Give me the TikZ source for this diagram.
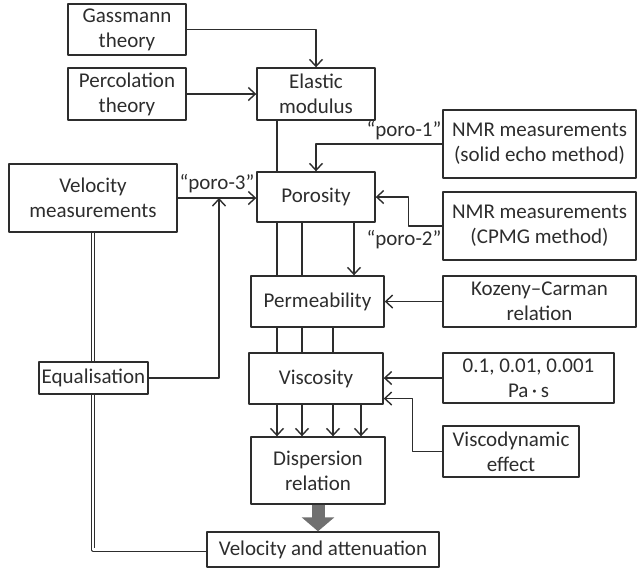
\documentclass[tikz,border=0pt]{standalone}
\usepackage{fontspec}
\setmainfont{Carlito}
\usetikzlibrary{arrows.meta}
\definecolor{ink}{RGB}{45,45,45}
\definecolor{bigarrow}{RGB}{112,112,112}
\tikzset{
  box/.style={draw=ink, line width=0.7pt, inner sep=0pt, align=center, text=ink},
  lbl/.style={inner sep=0pt, text=ink},
  arr/.style={draw=ink, line width=0.7pt, -{Straight Barb[length=3.5pt,width=6.5pt]}},
  ln/.style={draw=ink, line width=0.7pt},
  dbl/.style={draw=ink, line width=0.45pt, double=white, double distance=1.1pt},
  bigarr/.style={draw=bigarrow, line width=6.5pt, -{Triangle[length=7pt,width=16pt]}}
}
\begin{document}
\begin{tikzpicture}[x=0.5pt, y=-0.5pt, font=\fontsize{10.5pt}{12.5pt}\selectfont, line join=round]
		\useasboundingbox (0,0) rectangle (637,570);
		% boxes
		\node[box, minimum width=59pt, minimum height=25.5pt] (gass) at (127,29.5) {Gassmann\\theory};
		\node[box, minimum width=59pt, minimum height=26pt] (perc) at (127,94) {Percolation\\theory};
		\node[box, minimum width=59pt, minimum height=26pt] (elast) at (316,94) {Elastic\\modulus};
		\node[box, minimum width=96.5pt, minimum height=34pt] (nmr1) at (539.5,144) {NMR measurements\\(solid echo method)};
		\node[box, minimum width=59pt, minimum height=25pt] (poros) at (316,197) {Porosity};
		\node[box, minimum width=96.5pt, minimum height=34pt] (nmr2) at (539.5,226) {NMR measurements\\(CPMG method)};
		\node[box, minimum width=84pt, minimum height=34pt] (velm) at (93,198) {Velocity\\measurements};
		\node[box, minimum width=66.5pt, minimum height=25.5pt] (perm) at (317.5,301.5) {Permeability};
		\node[box, minimum width=96.5pt, minimum height=25.5pt] (koz) at (539.5,301.5) {Kozeny–Carman\\relation};
		\node[box, minimum width=67pt, minimum height=25.5pt] (visc) at (316,378.5) {Viscosity};
		\node[box, minimum width=85.5pt, minimum height=25pt] (pas) at (528.5,378) {0.1, 0.01, 0.001\\Pa\,·\,s};
		\node[box, minimum width=54.5pt, minimum height=16pt] (equal) at (93.5,378) {Equalisation};
		\node[box, minimum width=68pt, minimum height=25.5pt] (vdyn) at (511,451.5) {Viscodynamic\\effect};
		\node[box, minimum width=67pt, minimum height=33.5pt] (disp) at (318,470.5) {Dispersion\\relation};
		\node[box, minimum width=116pt, minimum height=17.5pt] (velatt) at (323,549.5) {Velocity and attenuation};
		% labels
		\node[lbl] (p1) at (404,131) {“poro-1”};
		\node[lbl] (p2) at (404,240) {“poro-2”};
		\node[lbl] (p3) at (217,184) {“poro-3”};
		% columns down the middle
		\coordinate (k1) at (277,0);
		\coordinate (k2) at (302,0);
		\coordinate (k3) at (333,0);
		\coordinate (k4) at (361,0);
		\coordinate (kp) at (354,0);
		\coordinate (jn) at (219,198);
		% connectors
		\draw[arr] (gass.east) -| (elast.north);
		\draw[arr] (perc.east) -- (elast.west);
		\draw[arr] (nmr1.west) -| (poros.north);
		\draw[arr] (nmr2.west) -- ++(-17pt,0) |- (poros.east);
		\draw[arr] (velm.east) -- (velm.east -| poros.west);
		\draw[arr] (equal.east) -| (jn);
		\draw[arr] (koz.west) -- (koz.west -| perm.east);
		\draw[arr] (pas.west) -- (pas.west -| visc.east);
		\draw[arr] (vdyn.west) -- ++(-15pt,0) |- ([yshift=-10pt]visc.east);
		\foreach \a/\b/\k in {elast/poros/k1, poros/perm/k1, perm/visc/k1, poros/perm/k2, perm/visc/k2, perm/visc/k3}
			\draw[ln] (\a.south -| \k) -- (\b.north -| \k);
		\draw[arr] (poros.south -| kp) -- (perm.north -| kp);
		\foreach \k in {k1,k2,k3,k4}
			\draw[arr] (visc.south -| \k) -- (disp.north -| \k);
		\draw[dbl] (velm.south) -- (velm.south |- equal.north);
		\draw[dbl] (velm.south |- equal.south) |- (velatt.west);
		\draw[bigarr] (disp.south) -- (disp.south |- velatt.north);
\end{tikzpicture}
\end{document}
